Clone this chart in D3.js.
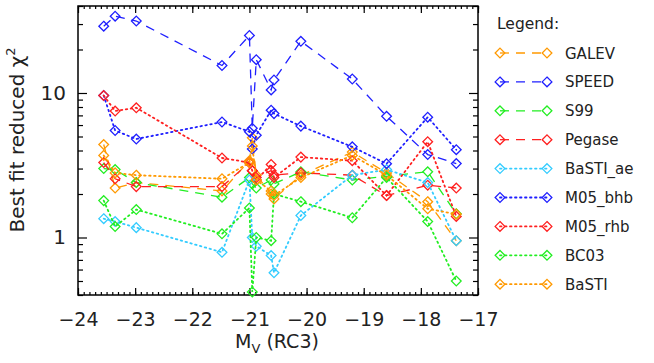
<!DOCTYPE html>
<html>
<head>
<meta charset="utf-8">
<script src="https://cdn.jsdelivr.net/npm/d3@7"></script>
<style>
  body { margin: 0; background: #fff; }
  svg text { font-family: "DejaVu Sans", sans-serif; fill: #222; }
</style>
</head>
<body>
<script>
// absolute V magnitude of each galaxy (RC3)
const mv = [-23.55, -23.35, -22.98, -21.48, -21.0, -20.95, -20.88, -20.62, -20.57, -20.1, -19.2, -18.6, -17.88, -17.38];

// best fit reduced chi^2 per model, one value per galaxy
const galev   = [4.4, 2.2, 2.4, 2.1, 3.4, 4.9, 2.7, 2.0, 1.85, 2.7, 3.9, 2.8, 1.77, 0.95];
const speed   = [29, 34, 31.5, 15.5, 25, 5.7, 17, 10.5, 12.3, 22.8, 12.5, 6.9, 3.75, 3.25];
const s99     = [3.0, 2.95, 2.4, 1.9, 2.6, 2.35, 2.2, 2.5, 2.35, 2.85, 2.5, 2.65, 2.85, 1.46];
const pegase  = [3.3, 2.55, 2.25, 2.25, 3.3, 2.9, 2.6, 2.9, 2.7, 2.8, 2.7, 1.95, 2.3, 2.2];
const bastiAe = [1.35, 1.29, 1.17, 0.79, 2.5, 1.0, 0.87, 0.75, 0.57, 1.42, 2.7, 2.95, 2.4, 0.95];
const m05bhb  = [9.6, 5.5, 4.8, 6.3, 5.4, 4.1, 5.1, 7.6, 7.2, 5.9, 4.24, 3.24, 6.8, 4.05];
const m05rhb  = [9.6, 7.5, 7.9, 3.55, 3.3, 2.9, 2.5, 3.2, 2.6, 3.6, 3.4, 1.95, 4.6, 1.4];
const bc03    = [1.8, 1.19, 1.56, 1.06, 1.6, 0.42, 1.0, 0.95, 2.0, 1.77, 1.37, 2.6, 1.29, 0.5];
const basti   = [3.7, 2.8, 2.7, 2.55, 3.3, 4.3, 2.5, 2.1, 1.95, 2.6, 3.7, 2.7, 1.58, 1.45];

const names = ["GALEV", "SPEED", "S99", "Pegase", "BaSTI_ae", "M05_bhb", "M05_rhb", "BC03", "BaSTI"];
const values = [galev, speed, s99, pegase, bastiAe, m05bhb, m05rhb, bc03, basti];
const colors = ["#ff9900", "#1f1fff", "#22ee22", "#ff2020", "#33ccff", "#1f1fff", "#ff2020", "#22ee22", "#ff9900"];
const dashed = [true, true, true, true, false, false, false, false, false];

const width = 654, height = 363;
const plotL = 78, plotR = 478, plotT = 6, plotB = 295;

const svg = d3.select("body").append("svg")
  .attr("width", width)
  .attr("height", height);

const x = d3.scaleLinear().domain([-24, -17]).range([plotL, plotR]);
const y = d3.scaleLog().domain([0.4, 40]).range([plotB, plotT]);

const majorX = d3.range(-24, -16.5, 1);
const minorX = d3.range(-24, -16.95, 0.1).map(v => Math.round(v * 10) / 10);
const majorY = [1, 10];
const minorY = [0.4, 0.5, 0.6, 0.7, 0.8, 0.9, 2, 3, 4, 5, 6, 7, 8, 9, 20, 30, 40];

// frame
svg.append("rect")
  .attr("x", plotL).attr("y", plotT)
  .attr("width", plotR - plotL).attr("height", plotB - plotT)
  .attr("fill", "none").attr("stroke", "#000").attr("stroke-width", 1.5);

// ticks, all pointing inward
function axis(gen, pos, vals, size, fmt) {
  let a = gen.tickValues(vals).tickSizeInner(-size).tickSizeOuter(0);
  a = a.tickFormat(fmt ? d3.format(fmt) : "");
  const g = svg.append("g").attr("transform", pos).call(a);
  g.select(".domain").remove();
  g.selectAll("line").attr("stroke", "#000").attr("stroke-width", 1.2);
  return g;
}
axis(d3.axisBottom(x), `translate(0,${plotB})`, minorX, 3);
axis(d3.axisTop(x), `translate(0,${plotT})`, minorX, 3);
const xl = axis(d3.axisBottom(x), `translate(0,${plotB})`, majorX, 7, "d");
axis(d3.axisTop(x), `translate(0,${plotT})`, majorX, 7);
xl.selectAll("text").attr("y", 18).attr("font-size", 19);

axis(d3.axisLeft(y), `translate(${plotL},0)`, minorY, 5);
axis(d3.axisRight(y), `translate(${plotR},0)`, minorY, 5);
const yl = axis(d3.axisLeft(y), `translate(${plotL},0)`, majorY, 9, "d");
axis(d3.axisRight(y), `translate(${plotR},0)`, majorY, 9);
yl.selectAll("text").attr("x", -12).attr("font-size", 20);

// axis titles
const xt = svg.append("text")
  .attr("x", 277).attr("y", 348)
  .attr("text-anchor", "middle").attr("font-size", 19);
xt.append("tspan").text("M");
xt.append("tspan").text("V").attr("font-size", 13).attr("dy", 5);
xt.append("tspan").text(" (RC3)").attr("dy", -5);

const yt = svg.append("text")
  .attr("transform", "translate(24,140) rotate(-90)")
  .attr("text-anchor", "middle").attr("font-size", 20);
yt.append("tspan").text("Best fit reduced \u03c7");
yt.append("tspan").text("2").attr("font-size", 13).attr("dy", -9);

// series
const line = d3.line().x(d => x(d[0])).y(d => y(d[1]));
const diamond = d3.symbol().type(d3.symbolDiamond2).size(60);

names.forEach((name, i) => {
  const pts = mv.map((m, j) => [m, values[i][j]]).filter(p => p[1] != null);
  const g = svg.append("g");
  g.append("path")
    .attr("d", line(pts))
    .attr("fill", "none")
    .attr("stroke", colors[i])
    .attr("stroke-width", dashed[i] ? 1.3 : 1.8)
    .attr("stroke-dasharray", dashed[i] ? "9,7" : "1.5,3.5")
    .attr("stroke-linecap", dashed[i] ? "butt" : "round");
  g.selectAll("path.pt").data(pts).join("path")
    .attr("class", "pt")
    .attr("transform", d => `translate(${x(d[0])},${y(d[1])})`)
    .attr("d", diamond)
    .attr("fill", "none")
    .attr("stroke", colors[i])
    .attr("stroke-width", 1.3);
});

// legend
svg.append("text").attr("x", 497).attr("y", 29).attr("font-size", 15.5).text("Legend:");
const legend = svg.append("g");
names.forEach((name, i) => {
  const ly = 53 + i * 28.9;
  const row = legend.append("g").attr("transform", `translate(0,${ly})`);
  row.append("line")
    .attr("x1", 500).attr("x2", 547)
    .attr("stroke", colors[i])
    .attr("stroke-width", dashed[i] ? 1.3 : 1.8)
    .attr("stroke-dasharray", dashed[i] ? "9,7" : "1.5,3.5")
    .attr("stroke-linecap", dashed[i] ? "butt" : "round");
  [500, 547].forEach(px => {
    row.append("path")
      .attr("transform", `translate(${px},0)`)
      .attr("d", diamond)
      .attr("fill", "none")
      .attr("stroke", colors[i])
      .attr("stroke-width", 1.3);
  });
  row.append("text").attr("x", 565).attr("y", 5.5).attr("font-size", 15).text(name);
});
</script>
</body>
</html>
